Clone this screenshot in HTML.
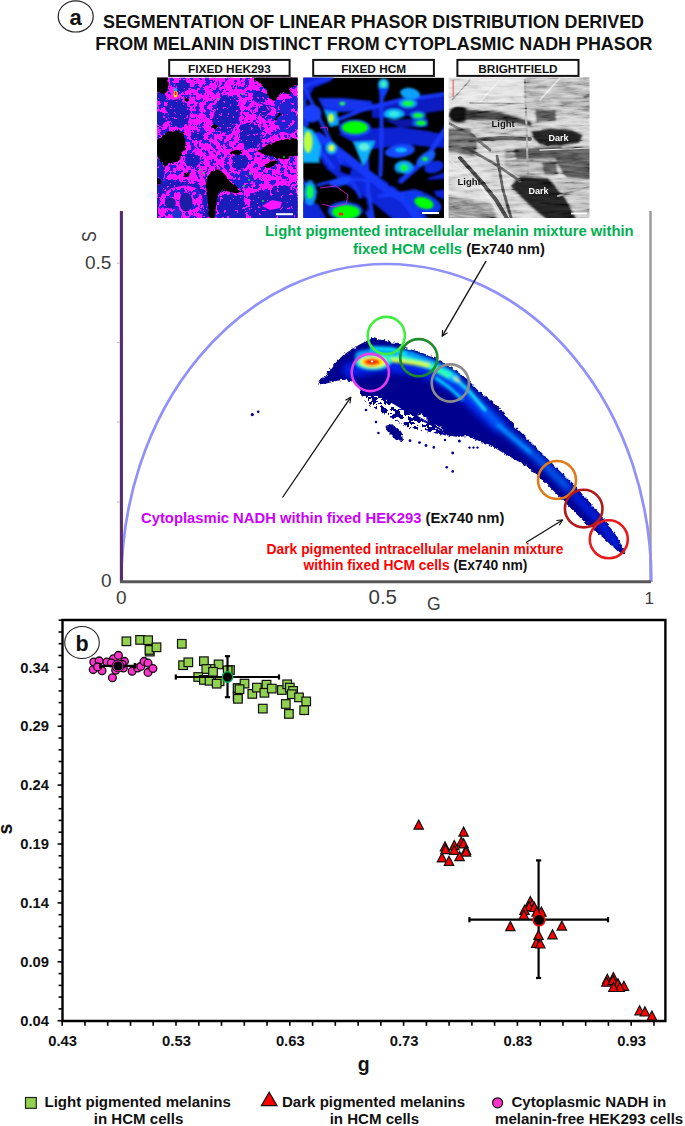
<!DOCTYPE html>
<html><head><meta charset="utf-8">
<style>
html,body{margin:0;padding:0;background:#fff;width:685px;height:1126px;overflow:hidden}
svg{display:block}
text{font-family:"Liberation Sans",sans-serif}
.b{font-weight:bold}
</style></head><body>
<svg width="685" height="1126" viewBox="0 0 685 1126">
<defs>
<marker id="ah" viewBox="0 0 10 10" refX="9" refY="5" markerWidth="7" markerHeight="7" orient="auto" markerUnits="userSpaceOnUse">
<path d="M1,1 L9,5 L1,9" fill="none" stroke="#111" stroke-width="1.6"/>
</marker>

<clipPath id="cBlob"><path d="M318,381 L324.6,377.5 L329,371 L334.8,363.6 L343.6,354.8 L352.3,349 L359.6,344.6 L368.4,340.2 L372.8,338 L378.6,339.5 L385.9,340.2 L391.8,342.4 L397.6,343.1 L404.7,348 L418.7,351.5 L436.2,358.5 L453.7,369 L467.7,379.6 L480,392.6 L483.8,395 L498.4,406.7 L515.9,427.2 L536.4,447.6 L556.8,468 L577.2,488.5 L600.6,514.7 L618.1,538.1 L625.4,552.7 L621,554.2 L603.5,538.1 L586,523.5 L562.6,500.1 L545.1,482.6 L524.7,465.1 L504.2,453.4 L489.6,444.7 L478,441 L468,436 L457.5,437 L446,435 L440,426 L431,424 L421,414 L412,418 L399,408.5 L385.4,399 L374,395.2 L362.6,397 L359.6,388 L353.8,382.6 L345,379.6 L336.3,381.1 L327.5,383.3 L318,384.5 Z"/></clipPath>
<clipPath id="cHek"><rect x="157" y="77.6" width="140.7" height="140.4"/></clipPath>
<clipPath id="cHcm"><rect x="303.3" y="77.6" width="140.7" height="140.4"/></clipPath>
<clipPath id="cBf"><rect x="448.6" y="77.6" width="140.9" height="140.4"/></clipPath>
<filter id="sm" x="-5%" y="-5%" width="110%" height="110%"><feGaussianBlur stdDeviation="0.6"/></filter>
<filter id="sm2" x="-20%" y="-20%" width="140%" height="140%"><feGaussianBlur stdDeviation="1.5"/></filter>
<filter id="spk1" x="0" y="0" width="100%" height="100%" filterUnits="objectBoundingBox">
<feTurbulence type="fractalNoise" baseFrequency="0.2" numOctaves="3" seed="7" result="n"/>
<feColorMatrix in="n" type="matrix" values="0 0 0 0 0  0 0 0 0 0  0 0 0 0 0  1 0 0 0 0" result="a"/>
<feComponentTransfer in="a" result="t"><feFuncA type="discrete" tableValues="0 0 0 0 0 0 0 0 0 0 0 1 1 1 1 1 1 1 1 1"/></feComponentTransfer>
<feGaussianBlur in="t" stdDeviation="0.5" result="tb"/>
<feComposite in="SourceGraphic" in2="tb" operator="in"/>
</filter>
<filter id="rough" filterUnits="userSpaceOnUse" x="150" y="70" width="160" height="155"><feTurbulence type="fractalNoise" baseFrequency="0.3" numOctaves="2" seed="3" result="t"/><feDisplacementMap in="SourceGraphic" in2="t" scale="6" xChannelSelector="R" yChannelSelector="G"/></filter>
<filter id="rough2" filterUnits="userSpaceOnUse" x="150" y="70" width="160" height="155"><feTurbulence type="fractalNoise" baseFrequency="0.25" numOctaves="2" seed="5" result="t"/><feDisplacementMap in="SourceGraphic" in2="t" scale="3.5" xChannelSelector="R" yChannelSelector="G"/></filter>
<filter id="spk2" x="-10%" y="-10%" width="120%" height="120%">
<feTurbulence type="fractalNoise" baseFrequency="0.22" numOctaves="2" seed="11" result="n"/>
<feColorMatrix in="n" type="matrix" values="0 0 0 0 0  0 0 0 0 0  0 0 0 0 0  1 0 0 0 0" result="a"/>
<feComponentTransfer in="a" result="t"><feFuncA type="discrete" tableValues="0 0 0 0 1 1 1 1 1 1"/></feComponentTransfer>
<feComposite in="SourceGraphic" in2="t" operator="in"/>
</filter>
<filter id="bl1" x="-10%" y="-10%" width="120%" height="120%"><feGaussianBlur stdDeviation="1.2"/></filter>
<filter id="bl05" x="-20%" y="-20%" width="140%" height="140%"><feGaussianBlur stdDeviation="0.5"/></filter>
<filter id="bl3" x="-20%" y="-20%" width="140%" height="140%"><feGaussianBlur stdDeviation="3"/></filter>
<filter id="bl15" x="-30%" y="-30%" width="160%" height="160%"><feGaussianBlur stdDeviation="1.5"/></filter>
<filter id="rough3" filterUnits="userSpaceOnUse" x="300" y="320" width="340" height="250"><feTurbulence type="fractalNoise" baseFrequency="0.35" numOctaves="2" seed="9" result="t"/><feDisplacementMap in="SourceGraphic" in2="t" scale="4" xChannelSelector="R" yChannelSelector="G"/></filter>
<filter id="spk3" x="-10%" y="-10%" width="120%" height="120%">
<feTurbulence type="fractalNoise" baseFrequency="0.22" numOctaves="2" seed="21" result="n"/>
<feColorMatrix in="n" type="matrix" values="0 0 0 0 0  0 0 0 0 0  0 0 0 0 0  1 0 0 0 0" result="a"/>
<feComponentTransfer in="a" result="t"><feFuncA type="discrete" tableValues="0 0 0 0 0 1 1 1 1 1"/></feComponentTransfer>
<feComposite in="SourceGraphic" in2="t" operator="in"/>
</filter>
<filter id="spk4" x="0" y="0" width="100%" height="100%">
<feTurbulence type="fractalNoise" baseFrequency="0.3" numOctaves="2" seed="17" result="n"/>
<feColorMatrix in="n" type="matrix" values="0 0 0 0 0  0 0 0 0 0  0 0 0 0 0  1 0 0 0 0" result="a"/>
<feComponentTransfer in="a" result="t"><feFuncA type="discrete" tableValues="0 0 0 0 0 0 0 1 1 1"/></feComponentTransfer>
<feComposite in="SourceGraphic" in2="t" operator="in"/>
</filter>
<filter id="tex" filterUnits="userSpaceOnUse" x="448.6" y="77.6" width="140.9" height="140.4">
<feTurbulence type="fractalNoise" baseFrequency="0.05 0.28" numOctaves="3" seed="4" result="n"/>
<feColorMatrix in="n" type="matrix" values="1.8 0 0 0 -0.4  1.8 0 0 0 -0.4  1.8 0 0 0 -0.4  0 0 0 0 0.6"/>
</filter>
</defs>
<rect width="685" height="1126" fill="#fff"/>

<!-- ===== PANEL A HEADER ===== -->
<ellipse cx="75.7" cy="16.4" rx="17.5" ry="15.6" fill="none" stroke="#222" stroke-width="1.2"/>
<text x="69.5" y="24.6" class="b" font-size="22" fill="#111">a</text>
<text x="103" y="28.3" class="b" font-size="17.9" fill="#111">SEGMENTATION OF LINEAR PHASOR DISTRIBUTION DERIVED</text>
<text x="95.3" y="49.5" class="b" font-size="17.9" fill="#111">FROM MELANIN DISTINCT FROM CYTOPLASMIC NADH PHASOR</text>

<!-- label boxes -->
<rect x="169.2" y="59.9" width="120.4" height="16" fill="#fff" stroke="#111" stroke-width="2"/>
<text x="229.4" y="72.7" class="b" font-size="11.8" fill="#111" text-anchor="middle">FIXED HEK293</text>
<rect x="313.2" y="59.9" width="120.7" height="16" fill="#fff" stroke="#111" stroke-width="2"/>
<text x="373.6" y="72.7" class="b" font-size="11.8" fill="#111" text-anchor="middle">FIXED HCM</text>
<rect x="457.4" y="59.9" width="121.1" height="16" fill="#fff" stroke="#111" stroke-width="2"/>
<text x="518" y="72.7" class="b" font-size="11.8" fill="#111" text-anchor="middle">BRIGHTFIELD</text>

<!-- images placeholders -->
<g id="hek" clip-path="url(#cHek)">
<rect x="157" y="77.6" width="140.7" height="140.4" fill="#ff14ff"/>
<rect x="157" y="77.6" width="140.7" height="140.4" fill="#2222d8" filter="url(#spk1)"/>
<g fill="#1c1cbc" filter="url(#rough)">
<ellipse cx="183" cy="86" rx="7" ry="6"/>
<path d="M167,101 L178,99 L188,104 L190,115 L188,124 L181,127 L173,126 L168,118 L166,108 Z"/>
<path d="M154,92 L163,93 L168,98 L163,102 L154,101 Z"/>
<path d="M154,111 L162,112 L166,119 L163,127 L154,127 Z"/>
<path d="M222,96 L232,96 L239,102 L240,112 L237,122 L232,131 L222,133 L214,129 L212,121 L216,108 Z"/>
<ellipse cx="259.5" cy="97" rx="7.5" ry="5.5"/>
<ellipse cx="263.8" cy="111" rx="6" ry="5.5"/>

<ellipse cx="197" cy="136" rx="7" ry="5"/>
<path d="M240,124 L252,122 L260,128 L262,140 L257,148 L246,148 L240,140 Z"/>
<ellipse cx="192.5" cy="160" rx="7.5" ry="7"/>
<ellipse cx="240" cy="162" rx="8.5" ry="8"/>

<path d="M154,160 L162,162 L165,170 L163,185 L154,185 Z"/>
<path d="M154,183 L170,180 L185,182 L200,186 L207,195 L209,210 L208,221 L154,221 Z"/>
<path d="M250,196 L258,190 L268,192 L275,186 L285,185 L294,190 L300,200 L300,221 L250,221 Z"/>
<path d="M218,196 L230,193 L240,196 L246,206 L246,221 L218,221 Z"/>
</g>
<rect x="157" y="77.6" width="140.7" height="140.4" fill="#ff14ff" filter="url(#spk4)"/>
<g fill="#2020d4" filter="url(#spk2)">
<path d="M276,104 L285,99 L300,97 L300,128 L290,134 L281,131 L276,120 Z"/>
<ellipse cx="243" cy="180" rx="11" ry="9"/>
</g>
<g fill="#ff14ff" filter="url(#sm)">
<path d="M158,203 L162,194 L172,188 L186,185 L196,188 L202,196 L204,210 L201,221 L158,221 Z"/>
<path d="M262,206 L272,200 L282,202 L280,208 L270,210 Z"/>
</g>
<path d="M158,203 L162,194 L172,188 L186,185 L196,188 L202,196 L204,210 L201,221 L158,221 Z" fill="#2222d8" filter="url(#spk1)"/>
<g fill="#1a1aa6" filter="url(#sm)">
<ellipse cx="170.3" cy="203" rx="5.5" ry="5.5"/>
<ellipse cx="186" cy="202" rx="6.5" ry="9.5"/>
<ellipse cx="177" cy="214" rx="5" ry="4.5" fill="#2030d0"/>
</g>
<g fill="#000" filter="url(#rough2)">
<path d="M154,75 L167.6,75 L168.7,83.8 L167,91.4 L163.8,94.2 L154,90.3 Z"/>
<path d="M250.7,75 L300,75 L300,84.9 L292.9,85.4 L290.1,89.2 L290.7,94.7 L286.3,93.6 L281.9,91.4 L277.6,96.9 L275.4,100.2 L269.9,99.1 L267.7,95.8 L266.6,90.3 L262.2,85.9 L257.8,81.6 L254.6,79.9 Z"/>
<path d="M161.6,136.3 L167,131.9 L174.7,130.3 L182.4,131.9 L185.1,136.3 L185.7,145 L184.6,149.4 L181.3,152.7 L180.2,159.2 L178,161.4 L169.2,163.6 L164.9,166.9 L161.6,162.5 L159.4,159.2 L154,150 L154,141 Z"/>
<path d="M184.6,97 L188.4,97.5 L188,101.8 L184.8,101.5 Z"/>
<path d="M210.8,126.5 L214.5,123.2 L218.5,126 L215,129.7 Z"/>
<path d="M257,151 L266,146 L278,141 L290,138.5 L300,139 L300,155 L290,156.5 L284,159.5 L276,157.5 L266,155 Z"/>
<path d="M263.3,166.9 L268.8,162.5 L275.4,160.3 L278.1,161.4 L275.4,165.3 L268.8,168 Z"/>
<path d="M211,171.3 L218.5,169.2 L224.9,174.5 L231.2,183 L237.6,187.3 L241,191.5 L236.5,193.5 L224.9,190.4 L218.5,193.5 L216.4,202 L214.3,221 L209,221 L207.9,202 L205.8,185 L207.9,176.6 Z"/>
<path d="M274,119.5 L279.8,112.8 L281.6,114 L275.8,120.6 Z"/>
<path d="M154,178 L160.5,178.5 L160.5,184.4 L154,184.4 Z"/>
<path d="M184,173 L190,172.5 L189,175.7 L184.5,176 Z"/>
<path d="M229.7,152 L236,149.7 L242.6,150.5 L240,154.4 L232,154.4 Z"/>
</g>
<g fill="#00e040"><circle cx="218" cy="99" r="0.9"/><circle cx="242" cy="94" r="0.9"/><circle cx="250" cy="174" r="1"/><circle cx="249" cy="180" r="1"/><circle cx="244" cy="186" r="1"/><circle cx="200" cy="170" r="0.9"/><circle cx="204" cy="173" r="0.9"/><circle cx="284" cy="157" r="0.9"/><circle cx="263" cy="201" r="0.9"/></g>
<ellipse cx="175.5" cy="94" rx="2" ry="3.5" fill="#ffe000"/><ellipse cx="175.6" cy="93.3" rx="1" ry="2" fill="#ff2000"/>
<ellipse cx="175.5" cy="89.5" rx="2" ry="1.5" fill="#20c0ff" opacity="0.8"/>
<rect x="276" y="213.2" width="17" height="2" fill="#fff"/>
</g>
<g id="hcm" clip-path="url(#cHcm)">
<rect x="303.3" y="77.6" width="140.7" height="140.4" fill="#000"/>
<g filter="url(#bl1)">
<g fill="#0c22d8">
<path d="M300,76 L333,75 L331,81 L314,88 L307,100 L300,104 Z"/>
<path d="M300,100 L306,100 L309,126 L300,128 Z" fill="#1030f0"/>
<path d="M318,98 L340,98 L372,101 L372,110 L345,112 L325,112 Z" fill="#1030e8"/>
<path d="M338,134 L356,129 L400,127 L428,131 L446,135 L446,148 L430,147 L412,145 L395,146 L373,149 L360,146 Z" fill="#0c24d0"/>
<path d="M318,134 L345,154 L372,172 L395,188 L418,206 L430,221 L395,221 L372,202 L348,186 L326,168 L316,150 Z" fill="#0c26d8"/>
<path d="M300,200 L318,204 L328,221 L300,221 Z" fill="#0c26d8"/>
<path d="M428,178 L446,172 L446,200 L436,196 Z"/>
<path d="M372,104 L446,96 L446,110 L395,118 L372,118 Z" fill="#0a1cc0"/>
<path d="M384,120 L428,118 L428,127 L400,127 Z" fill="#0818a8"/>
</g>
<g fill="none" stroke="#1838f8" stroke-linecap="round">
<path d="M304,86 L322,124 L340,160 L360,196 L371,221" stroke-width="3.5"/>
<path d="M304,86 L332,77" stroke-width="4"/>
<path d="M330,123 L362,110 L400,100 L446,94" stroke-width="4"/>
<path d="M381.5,88 L381.5,140 L380.5,175" stroke-width="4"/>
<path d="M318,136 L350,160 L385,188 L405,200 L420,221" stroke-width="8"/>
<path d="M366,150 L368,190 L373,221" stroke-width="4.5"/>
<path d="M401,181 L425,160 L446,128" stroke-width="5"/>
<path d="M303,128 L320,150 L333,168" stroke-width="4"/>
<path d="M380,196 L446,188" stroke-width="4"/>
<path d="M318,185 L345,178 L380,182" stroke-width="3"/>
<path d="M303,182 L316,192" stroke-width="3"/>
</g>
<g fill="#000">
<path d="M303,161 L318,159 L327,167 L325,178 L311,181 L303,179 Z"/>
<path d="M321,189 L336,186 L348,193 L350,204 L340,209 L326,207 L320,199 Z"/>
<path d="M387,173 L396,169 L400,178 L397,188 L388,186 Z"/>
<path d="M355,199 L364,197 L369,205 L366,214 L357,212 Z"/>
<path d="M405,187 L418,180 L446,178 L446,190 L425,193 Z"/>
<path d="M340,164 L352,168 L350,176 L340,172 Z"/>
</g>
<ellipse cx="312" cy="113.5" rx="9.5" ry="9" fill="#1c40fa"/>
<ellipse cx="344" cy="104" rx="23" ry="5.5" fill="#1436ec" transform="rotate(3 344 104)"/>
<path d="M324,110 L337,112 L339,125 L330,127 Z" fill="#10a0ff"/>
<ellipse cx="355" cy="128" rx="16" ry="8.5" fill="#1448ff"/>
<path d="M301,126 L313,130 L321,146 L319,162 L301,162 Z" fill="#10b0ff"/>
<ellipse cx="331.5" cy="148" rx="5.5" ry="6" fill="#10b0ff"/>
<path d="M353,142 L375,141 L368,158 L363,166 Z" fill="#10b0ff"/>
<ellipse cx="383.5" cy="84.5" rx="5.5" ry="6" fill="#10a0ff"/>
<path d="M378,88 L389,88 L383,100 Z" fill="#1040ff"/>
<ellipse cx="410" cy="93.5" rx="10" ry="5.5" fill="#10a0ff" transform="rotate(8 410 93.5)"/>
<ellipse cx="408" cy="103.5" rx="9" ry="4.2" fill="#10a0ff"/>
<ellipse cx="394" cy="114" rx="10" ry="5" fill="#10b0ff"/>
<ellipse cx="418" cy="115.5" rx="8" ry="4" fill="#1070ff"/>
<ellipse cx="420" cy="123" rx="7.5" ry="4" fill="#1060ff"/>
<ellipse cx="400" cy="151" rx="15" ry="6.5" fill="#1848ff" transform="rotate(-8 400 151)"/>
<ellipse cx="404" cy="167" rx="9.5" ry="6.5" fill="#10a0ff"/>
<ellipse cx="426" cy="158.5" rx="11" ry="5.5" fill="#1460ff" transform="rotate(-35 426 158.5)"/>
<ellipse cx="434" cy="167" rx="10" ry="6" fill="#0a2ae0" transform="rotate(-15 434 167)"/>
<ellipse cx="310" cy="193" rx="6.5" ry="12" fill="#1090ff"/>
<ellipse cx="345" cy="211" rx="17" ry="9" fill="#1448ff"/>
<ellipse cx="423" cy="203" rx="19" ry="9.5" fill="#1038f0" transform="rotate(18 423 203)"/>
<ellipse cx="340" cy="182" rx="11" ry="4" fill="#1448ff" transform="rotate(-10 340 182)"/>
</g>
<g filter="url(#bl1)">
<ellipse cx="342.3" cy="103.6" rx="3" ry="1.8" fill="#30ff60"/>
<ellipse cx="331" cy="118" rx="3" ry="4.5" fill="#c0ff40"/>
<ellipse cx="355" cy="127.5" rx="13" ry="6.5" fill="#00ff00"/>
<ellipse cx="383.5" cy="84" rx="3" ry="3.5" fill="#40f0c0"/>
<ellipse cx="408" cy="103.5" rx="5.5" ry="2.8" fill="#10ff40"/>
<ellipse cx="394" cy="114" rx="5.5" ry="3" fill="#30f0e0"/>
<ellipse cx="418" cy="115.5" rx="5" ry="2.5" fill="#10ff30"/>
<ellipse cx="421" cy="123" rx="5" ry="2.5" fill="#10ff20"/>
<ellipse cx="308" cy="142" rx="4.5" ry="11" fill="#c0ff40"/>
<ellipse cx="331.5" cy="148" rx="3" ry="3.5" fill="#e0ff40"/>
<ellipse cx="364" cy="147" rx="5.5" ry="4" fill="#60f0e0"/>
<ellipse cx="401" cy="150" rx="6" ry="2.5" fill="#10c0ff"/>
<ellipse cx="425" cy="159" rx="3" ry="2" fill="#10ff30"/>
<ellipse cx="404" cy="167.5" rx="5" ry="4" fill="#10e0a0"/>
<ellipse cx="404" cy="168" rx="2.5" ry="3" fill="#10ff20"/>
<ellipse cx="310" cy="192" rx="3.5" ry="7" fill="#10ff40"/>
<ellipse cx="346" cy="212" rx="14" ry="7" fill="#00ff00"/>
<ellipse cx="424" cy="203" rx="10" ry="5.5" fill="#00ff00" transform="rotate(18 424 203)"/>
</g>
<ellipse cx="341" cy="214" rx="2.5" ry="1.5" fill="#ff2000" filter="url(#bl05)"/>
<g fill="none" stroke="#e020e0" stroke-width="0.9" opacity="0.9">
<path d="M320,188 L336,186 L348,195 L346,204 L333,207 L322,204"/>
<path d="M320,128 L327,127 L328,131"/>
</g>
<rect x="422" y="212" width="17" height="2" fill="#fff"/>
</g>
<g id="bf" clip-path="url(#cBf)">
<rect x="448.6" y="77.6" width="140.9" height="140.4" fill="#c6c6c6"/>
<g filter="url(#bl1)">
<path d="M446,76 L528,76 L526,100 L505,104 L470,106 L446,104 Z" fill="#d8d8d8"/>
<path d="M526,76 L592,76 L592,118 L560,116 L530,110 L524,100 Z" fill="#a4a4a4"/>
<path d="M470,112 L530,116 L540,128 L535,146 L500,148 L473,144 Z" fill="#b8b8b8"/>
<path d="M446,128 L470,128 L478,142 L474,156 L446,158 Z" fill="#5a5a5a"/>
<path d="M446,152 L470,156 L488,172 L496,190 L494,204 L470,206 L446,200 Z" fill="#d2d2d2"/>
<path d="M446,196 L470,200 L492,204 L498,221 L446,221 Z" fill="#767676"/>
<path d="M505,148 L540,150 L552,160 L556,176 L520,178 L505,168 Z" fill="#9a9a9a"/>
<path d="M556,148 L592,146 L592,180 L566,178 L556,162 Z" fill="#4c4c4c"/>
<path d="M566,196 L582,194 L592,200 L592,212 L575,211 L566,204 Z" fill="#6a6a6a"/>
<path d="M556,178 L592,180 L592,221 L572,221 L560,200 Z" fill="#b0b0b0"/>
<path d="M514,148 L562,146 L566,158 L516,160 Z" fill="#444"/>
<path d="M542,162 L556,161 L558,174 L544,175 Z" fill="#505050"/>
<path d="M535,109 L556,110 L556,121 L536,122 Z" fill="#4a4a4a"/>
<path d="M520,176 L548,178 L566,198 L578,221 L548,221 L528,204 L510,186 Z" fill="#1e1e1e"/>
<path d="M531,131 L550,128 L572,130 L583,135 L579,143 L560,145.5 L540,144.5 L533,139 Z" fill="#1a1a1a"/>
<ellipse cx="459" cy="114.5" rx="10.5" ry="8.5" fill="#101010"/>
<path d="M466,109 L500,112 L532,121 L532,127 L500,121 L466,120 Z" fill="#303030"/>
</g>
<g fill="none" stroke-linecap="round" filter="url(#bl05)">
<path d="M460,158 L480,180 L496,200 L508,220" stroke="#3a3a3a" stroke-width="4"/>
<path d="M470,140 L500,138 L530,139" stroke="#484848" stroke-width="4"/>
<path d="M450,124 L470,134 L490,150" stroke="#555" stroke-width="3"/>
<path d="M470,150 L495,164 L520,181" stroke="#505050" stroke-width="3"/>
<path d="M497,156 L503,190 L512,221" stroke="#4a4a4a" stroke-width="3"/>
<path d="M500,80 L478,104" stroke="#eaeaea" stroke-width="1.5"/>
<path d="M560,78 L540,100" stroke="#e0e0e0" stroke-width="1.2"/>
<path d="M470,80 L452,100" stroke="#909090" stroke-width="1.2"/>
<path d="M525,80 L528,175" stroke="#8a8a8a" stroke-width="2"/>
<path d="M450,160 L480,185 L500,215" stroke="#eeeeee" stroke-width="1"/>
<path d="M470,103 L540,104 L592,108" stroke="#8a8a8a" stroke-width="1.5"/>
<path d="M540,150 L592,148" stroke="#e8e8e8" stroke-width="1"/>
<path d="M558,196 L592,186" stroke="#888" stroke-width="2"/>
</g>
<rect x="448.6" y="77.6" width="140.9" height="140.4" filter="url(#tex)" style="mix-blend-mode:overlay"/>
<text x="491.5" y="126.8" class="b" font-size="9.5" fill="#111">Light</text>
<text x="548.5" y="140.6" class="b" font-size="9" fill="#fff">Dark</text>
<text x="457.5" y="185.2" class="b" font-size="9.5" fill="#111">Light</text>
<text x="528.5" y="193.6" class="b" font-size="9" fill="#fff">Dark</text>
<line x1="453.2" y1="80" x2="453.2" y2="97" stroke="#e03030" stroke-width="0.8"/>
<rect x="571" y="212.6" width="16" height="1.8" fill="#fff"/>
</g>

<!-- ===== PHASOR PLOT ===== -->
<g id="phasor">
<line x1="650.5" y1="211" x2="650.5" y2="582" stroke="#9c9c9c" stroke-width="2.5"/>
<path d="M121.4,582 A265,318 0 0 1 651.4,582" fill="none" stroke="#9090fa" stroke-width="2.7"/>
<line x1="121.4" y1="211" x2="121.4" y2="582" stroke="#5a2c6c" stroke-width="3.1"/>
<line x1="120" y1="581.8" x2="651" y2="581.8" stroke="#585858" stroke-width="3"/>
<g stroke="#bbb" stroke-width="1"><line x1="117" y1="263.2" x2="120" y2="263.2"/><line x1="117" y1="342.5" x2="120" y2="342.5"/><line x1="117" y1="422" x2="120" y2="422"/><line x1="117" y1="502" x2="120" y2="502"/></g>
<text x="85" y="269.3" font-size="19" fill="#3c3c3c">0.5</text>
<text x="101" y="586.8" font-size="19" fill="#3c3c3c">0</text>
<text x="116" y="604" font-size="19" fill="#3c3c3c">0</text>
<text x="368.5" y="604" font-size="20.5" fill="#3c3c3c">0.5</text>
<text x="644.5" y="603.5" font-size="17" fill="#3c3c3c">1</text>
<text x="427" y="609.7" font-size="17.5" fill="#3c3c3c">G</text>
<text transform="translate(95.5,242) rotate(-90) scale(0.78,1)" font-size="20.5" fill="#3c3c3c">S</text>
</g>

<g id="blob">
<g fill="#00008e" filter="url(#rough3)">
<path id="blobp" d="M318,381 L324.6,377.5 L329,371 L334.8,363.6 L343.6,354.8 L352.3,349 L359.6,344.6 L368.4,340.2 L372.8,338 L378.6,339.5 L385.9,340.2 L391.8,342.4 L397.6,343.1 L404.7,348 L418.7,351.5 L436.2,358.5 L453.7,369 L467.7,379.6 L480,392.6 L483.8,395 L498.4,406.7 L515.9,427.2 L536.4,447.6 L556.8,468 L577.2,488.5 L600.6,514.7 L618.1,538.1 L625.4,552.7 L621,554.2 L603.5,538.1 L586,523.5 L562.6,500.1 L545.1,482.6 L524.7,465.1 L504.2,453.4 L489.6,444.7 L478,441 L468,436 L457.5,437 L446,435 L440,426 L431,424 L421,414 L412,418 L399,408.5 L385.4,399 L374,395.2 L362.6,397 L359.6,388 L353.8,382.6 L345,379.6 L336.3,381.1 L327.5,383.3 L318,384.5 Z"/>
<path d="M360,392 L375,392 L392,400 L410,412 L425,420 L440,428 L448,436 L430,432 L410,428 L395,420 L380,412 L368,404 Z"/>
<path d="M385,426 L392,424 L402,433 L403,441 L396,440 L388,432 Z"/>
</g>
<g fill="#fff" filter="url(#spk3)">
<path d="M362,396 L380,396 L400,408 L420,420 L440,430 L430,434 L405,428 L385,420 L370,408 Z"/>
</g>
<g fill="#00008e">
<circle cx="252.3" cy="414.6" r="1.6"/><circle cx="258.2" cy="411.8" r="1.3"/>
<circle cx="366" cy="410" r="1.3"/><circle cx="376" cy="422" r="1.3"/><circle cx="378.4" cy="433" r="1.3"/>
<circle cx="410" cy="440.7" r="1.4"/><circle cx="419.5" cy="442.6" r="1.4"/><circle cx="426" cy="445.5" r="1.4"/><circle cx="433.8" cy="447.4" r="1.3"/>
<circle cx="452.7" cy="453" r="1.4"/><circle cx="446.7" cy="467.2" r="1.3"/><circle cx="452.7" cy="471.4" r="1.3"/>
<circle cx="469.5" cy="447.6" r="1.2"/><circle cx="473.5" cy="447.6" r="1.2"/><circle cx="477.5" cy="447.6" r="1.2"/>
<circle cx="459.4" cy="441" r="1.5"/><circle cx="445" cy="440" r="1.2"/>
</g>
<g clip-path="url(#cBlob)">
<g fill="none" stroke-linecap="round" filter="url(#bl3)">
<path d="M350,370 L380,364 L420,368 L455,385 L498,425" stroke="#0024ea" stroke-width="15"/>
<path d="M498,425 L536,457 L570,490 L600,522 L617,545" stroke="#0020e0" stroke-width="8"/>
<path d="M362,356 L400,356 L430,364 L460,382 L498,424 L536,456 L566,486" stroke="#0068ff" stroke-width="6"/>
</g>
<g fill="none" stroke-linecap="round" filter="url(#bl15)">
<path d="M360,356 L385,352 L410,356 L435,366 L455,378" stroke="#00a8ff" stroke-width="10" opacity="0.9"/>
<path d="M372,348 L392,349 L405,353" stroke="#00e0ff" stroke-width="4"/>
<path d="M380,358 L405,359 L430,366 L448,375" stroke="#40ffb0" stroke-width="6"/>
<path d="M385,360 L405,360 L430,366 L450,374" stroke="#20ffc0" stroke-width="4.5"/>
<path d="M392,360 L428,365" stroke="#e8ff20" stroke-width="3.5"/>
<path d="M436,378 L450,388 L462,399" stroke="#00f0ff" stroke-width="2.8"/>
<path d="M452,376 L468,390 L485,410" stroke="#20f8ff" stroke-width="2.8"/>
<path d="M455,378 L459,381" stroke="#f0ff20" stroke-width="2"/>
<path d="M498,425 L530,452" stroke="#0090ff" stroke-width="3"/>
</g>
<g filter="url(#bl15)">
<ellipse cx="373" cy="362" rx="18" ry="8" fill="#20f0d0"/>
<ellipse cx="373" cy="362" rx="13" ry="5.5" fill="#ffff00"/>
<ellipse cx="372" cy="362" rx="8.5" ry="3.5" fill="#ff1000"/>
</g>
</g>
<ellipse cx="372" cy="361.5" rx="1.3" ry="0.9" fill="#fff"/>
<g fill="none" stroke-width="2.6">
<circle cx="386.3" cy="335.5" r="18.6" stroke="#40ee40"/>
<circle cx="418.8" cy="357.7" r="18.6" stroke="#1e8c28"/>
<circle cx="450.3" cy="383" r="18.6" stroke="#8c8c8c"/>
<circle cx="370.3" cy="372.5" r="18.6" stroke="#e83ce8"/>
<circle cx="557" cy="480" r="19" stroke="#e07a1a"/>
<circle cx="583.7" cy="508.6" r="18.8" stroke="#b01a1a"/>
<circle cx="608.8" cy="539.3" r="19" stroke="#e51c1c"/>
</g>
</g>

<!-- annotations -->
<text x="265" y="236.1" class="b" font-size="14.85" fill="#00b050">Light pigmented intracellular melanin mixture within</text>
<text x="353" y="254.1" class="b" font-size="14.75"><tspan fill="#00b050">fixed HCM cells</tspan><tspan fill="#111"> (Ex740 nm)</tspan></text>
<text x="141" y="522.8" class="b" font-size="14.8"><tspan fill="#cc00ff">Cytoplasmic NADH  within fixed HEK293</tspan><tspan fill="#111"> (Ex740 nm)</tspan></text>
<text x="266.5" y="554" class="b" font-size="13.85" fill="#ff0000">Dark pigmented intracellular melanin mixture</text>
<text x="303.5" y="570.2" class="b" font-size="13.85"><tspan fill="#ff0000">within fixed HCM cells</tspan><tspan fill="#111"> (Ex740 nm)</tspan></text>

<g stroke="#111" stroke-width="1.3" fill="none" marker-end="url(#ah)">
<line x1="486" y1="261.1" x2="442.2" y2="336.2"/>
<line x1="282.5" y1="497.5" x2="350.8" y2="397.2"/>
<line x1="526.1" y1="542.5" x2="562.6" y2="520"/>
</g>

<!-- ===== PANEL B ===== -->
<g id="panelb">
<path d="M62.5,620 L665.4,620 L665.4,1021 L62.5,1021 Z" fill="none" stroke="#000" stroke-width="2.4"/>
<ellipse cx="82" cy="642.5" rx="17.3" ry="16" fill="none" stroke="#222" stroke-width="1.1"/>
<!--PB_START-->
<g stroke="#000" stroke-width="1.6">
<line x1="57.6" y1="1020.7" x2="62" y2="1020.7"/>
<line x1="58.6" y1="1008.9" x2="62" y2="1008.9"/>
<line x1="58.6" y1="997.1" x2="62" y2="997.1"/>
<line x1="58.6" y1="985.4" x2="62" y2="985.4"/>
<line x1="58.6" y1="973.6" x2="62" y2="973.6"/>
<line x1="57.6" y1="961.8" x2="62" y2="961.8"/>
<line x1="58.6" y1="950.0" x2="62" y2="950.0"/>
<line x1="58.6" y1="938.2" x2="62" y2="938.2"/>
<line x1="58.6" y1="926.5" x2="62" y2="926.5"/>
<line x1="58.6" y1="914.7" x2="62" y2="914.7"/>
<line x1="57.6" y1="902.9" x2="62" y2="902.9"/>
<line x1="58.6" y1="891.1" x2="62" y2="891.1"/>
<line x1="58.6" y1="879.3" x2="62" y2="879.3"/>
<line x1="58.6" y1="867.6" x2="62" y2="867.6"/>
<line x1="58.6" y1="855.8" x2="62" y2="855.8"/>
<line x1="57.6" y1="844.0" x2="62" y2="844.0"/>
<line x1="58.6" y1="832.2" x2="62" y2="832.2"/>
<line x1="58.6" y1="820.4" x2="62" y2="820.4"/>
<line x1="58.6" y1="808.7" x2="62" y2="808.7"/>
<line x1="58.6" y1="796.9" x2="62" y2="796.9"/>
<line x1="57.6" y1="785.1" x2="62" y2="785.1"/>
<line x1="58.6" y1="773.3" x2="62" y2="773.3"/>
<line x1="58.6" y1="761.5" x2="62" y2="761.5"/>
<line x1="58.6" y1="749.8" x2="62" y2="749.8"/>
<line x1="58.6" y1="738.0" x2="62" y2="738.0"/>
<line x1="57.6" y1="726.2" x2="62" y2="726.2"/>
<line x1="58.6" y1="714.4" x2="62" y2="714.4"/>
<line x1="58.6" y1="702.6" x2="62" y2="702.6"/>
<line x1="58.6" y1="690.9" x2="62" y2="690.9"/>
<line x1="58.6" y1="679.1" x2="62" y2="679.1"/>
<line x1="57.6" y1="667.3" x2="62" y2="667.3"/>
<line x1="58.6" y1="655.5" x2="62" y2="655.5"/>
<line x1="58.6" y1="643.7" x2="62" y2="643.7"/>
<line x1="58.6" y1="632.0" x2="62" y2="632.0"/>
<line x1="58.6" y1="620.2" x2="62" y2="620.2"/>
<line x1="62.2" y1="1021" x2="62.2" y2="1025.8"/>
<line x1="85.0" y1="1021" x2="85.0" y2="1025.8"/>
<line x1="107.7" y1="1021" x2="107.7" y2="1025.8"/>
<line x1="130.5" y1="1021" x2="130.5" y2="1025.8"/>
<line x1="153.2" y1="1021" x2="153.2" y2="1025.8"/>
<line x1="176.0" y1="1021" x2="176.0" y2="1025.8"/>
<line x1="198.8" y1="1021" x2="198.8" y2="1025.8"/>
<line x1="221.5" y1="1021" x2="221.5" y2="1025.8"/>
<line x1="244.3" y1="1021" x2="244.3" y2="1025.8"/>
<line x1="267.0" y1="1021" x2="267.0" y2="1025.8"/>
<line x1="289.8" y1="1021" x2="289.8" y2="1025.8"/>
<line x1="312.6" y1="1021" x2="312.6" y2="1025.8"/>
<line x1="335.3" y1="1021" x2="335.3" y2="1025.8"/>
<line x1="358.1" y1="1021" x2="358.1" y2="1025.8"/>
<line x1="380.8" y1="1021" x2="380.8" y2="1025.8"/>
<line x1="403.6" y1="1021" x2="403.6" y2="1025.8"/>
<line x1="426.4" y1="1021" x2="426.4" y2="1025.8"/>
<line x1="449.1" y1="1021" x2="449.1" y2="1025.8"/>
<line x1="471.9" y1="1021" x2="471.9" y2="1025.8"/>
<line x1="494.6" y1="1021" x2="494.6" y2="1025.8"/>
<line x1="517.4" y1="1021" x2="517.4" y2="1025.8"/>
<line x1="540.2" y1="1021" x2="540.2" y2="1025.8"/>
<line x1="562.9" y1="1021" x2="562.9" y2="1025.8"/>
<line x1="585.7" y1="1021" x2="585.7" y2="1025.8"/>
<line x1="608.4" y1="1021" x2="608.4" y2="1025.8"/>
<line x1="631.2" y1="1021" x2="631.2" y2="1025.8"/>
<line x1="654.0" y1="1021" x2="654.0" y2="1025.8"/>
</g>
<text x="49" y="1025.9" class="b" font-size="14.8" fill="#111" text-anchor="end">0.04</text>
<text x="49" y="967.0" class="b" font-size="14.8" fill="#111" text-anchor="end">0.09</text>
<text x="49" y="908.1" class="b" font-size="14.8" fill="#111" text-anchor="end">0.14</text>
<text x="49" y="849.2" class="b" font-size="14.8" fill="#111" text-anchor="end">0.19</text>
<text x="49" y="790.3" class="b" font-size="14.8" fill="#111" text-anchor="end">0.24</text>
<text x="49" y="731.4" class="b" font-size="14.8" fill="#111" text-anchor="end">0.29</text>
<text x="49" y="672.5" class="b" font-size="14.8" fill="#111" text-anchor="end">0.34</text>
<text x="62.7" y="1045.5" class="b" font-size="14.8" fill="#111" text-anchor="middle">0.43</text>
<text x="176.5" y="1045.5" class="b" font-size="14.8" fill="#111" text-anchor="middle">0.53</text>
<text x="290.3" y="1045.5" class="b" font-size="14.8" fill="#111" text-anchor="middle">0.63</text>
<text x="404.1" y="1045.5" class="b" font-size="14.8" fill="#111" text-anchor="middle">0.73</text>
<text x="517.9" y="1045.5" class="b" font-size="14.8" fill="#111" text-anchor="middle">0.83</text>
<text x="631.7" y="1045.5" class="b" font-size="14.8" fill="#111" text-anchor="middle">0.93</text>
<text transform="translate(11.6,829.1) rotate(-90)" class="b" font-size="19.5" fill="#111" text-anchor="middle">s</text>
<text x="363.8" y="1070.8" class="b" font-size="19.5" fill="#111" text-anchor="middle">g</text>
<g fill="#ff33cc" stroke="#111" stroke-width="1.3">
<circle cx="93.2" cy="669.6" r="3.9"/>
<circle cx="93.8" cy="662" r="3.9"/>
<circle cx="99.2" cy="660.9" r="3.9"/>
<circle cx="102" cy="670.7" r="3.9"/>
<circle cx="106.9" cy="662" r="3.9"/>
<circle cx="112.4" cy="677.8" r="3.9"/>
<circle cx="113.5" cy="658.7" r="3.9"/>
<circle cx="118.4" cy="655.4" r="3.9"/>
<circle cx="124.4" cy="661.4" r="3.9"/>
<circle cx="123.3" cy="668" r="3.9"/>
<circle cx="115.7" cy="670.2" r="3.9"/>
<circle cx="132.1" cy="671.3" r="3.9"/>
<circle cx="137.6" cy="668" r="3.9"/>
<circle cx="140.8" cy="666.4" r="3.9"/>
<circle cx="144.1" cy="661.4" r="3.9"/>
<circle cx="148" cy="663.1" r="3.9"/>
<circle cx="148" cy="672.4" r="3.9"/>
<circle cx="152.9" cy="668.5" r="3.9"/>
<circle cx="111.3" cy="663" r="3.9"/>
<circle cx="97.6" cy="666.9" r="3.9"/>
<circle cx="122.2" cy="664.2" r="3.9"/>
</g>
<g stroke="#000" stroke-width="2.2" fill="none"><line x1="100.3" y1="665.8" x2="134.8" y2="665.8"/><line x1="100.3" y1="663.0" x2="100.3" y2="668.5999999999999"/><line x1="134.8" y1="663.0" x2="134.8" y2="668.5999999999999"/></g>
<circle cx="118" cy="666" r="6.2" fill="#111"/><circle cx="118" cy="666" r="5.4" fill="#ff33cc"/><circle cx="118" cy="666" r="4.6" fill="#000"/>
<g fill="#92d050" stroke="#111" stroke-width="1.2">
<rect x="122.1" y="637.0" width="8.6" height="8.6"/>
<rect x="135.8" y="635.6" width="8.6" height="8.6"/>
<rect x="143.8" y="635.9" width="8.6" height="8.6"/>
<rect x="145.5" y="647.3" width="8.6" height="8.6"/>
<rect x="145.2" y="645.6" width="8.6" height="8.6"/>
<rect x="152.2" y="643.0" width="8.6" height="8.6"/>
<rect x="177.5" y="639.5" width="8.6" height="8.6"/>
<rect x="178.8" y="660.9" width="8.6" height="8.6"/>
<rect x="184.0" y="658.0" width="8.6" height="8.6"/>
<rect x="199.6" y="656.9" width="8.6" height="8.6"/>
<rect x="214.3" y="660.1" width="8.6" height="8.6"/>
<rect x="225.7" y="665.7" width="8.6" height="8.6"/>
<rect x="223.4" y="666.1" width="8.6" height="8.6"/>
<rect x="206.3" y="664.7" width="8.6" height="8.6"/>
<rect x="202.0" y="664.7" width="8.6" height="8.6"/>
<rect x="208.7" y="667.5" width="8.6" height="8.6"/>
<rect x="193.9" y="672.7" width="8.6" height="8.6"/>
<rect x="199.6" y="675.6" width="8.6" height="8.6"/>
<rect x="205.3" y="676.5" width="8.6" height="8.6"/>
<rect x="215.3" y="677.0" width="8.6" height="8.6"/>
<rect x="212.4" y="679.4" width="8.6" height="8.6"/>
<rect x="233.3" y="692.2" width="8.6" height="8.6"/>
<rect x="233.3" y="683.7" width="8.6" height="8.6"/>
<rect x="240.2" y="679.3" width="8.6" height="8.6"/>
<rect x="235.2" y="684.9" width="8.6" height="8.6"/>
<rect x="233.6" y="694.5" width="8.6" height="8.6"/>
<rect x="248.0" y="689.6" width="8.6" height="8.6"/>
<rect x="252.6" y="683.3" width="8.6" height="8.6"/>
<rect x="262.2" y="680.4" width="8.6" height="8.6"/>
<rect x="260.1" y="688.5" width="8.6" height="8.6"/>
<rect x="267.5" y="684.3" width="8.6" height="8.6"/>
<rect x="258.5" y="704.3" width="8.6" height="8.6"/>
<rect x="277.6" y="685.7" width="8.6" height="8.6"/>
<rect x="282.9" y="680.0" width="8.6" height="8.6"/>
<rect x="285.5" y="683.3" width="8.6" height="8.6"/>
<rect x="288.8" y="686.6" width="8.6" height="8.6"/>
<rect x="287.5" y="689.9" width="8.6" height="8.6"/>
<rect x="294.7" y="693.1" width="8.6" height="8.6"/>
<rect x="281.5" y="699.7" width="8.6" height="8.6"/>
<rect x="301.9" y="697.1" width="8.6" height="8.6"/>
<rect x="284.6" y="709.6" width="8.6" height="8.6"/>
<rect x="299.9" y="705.9" width="8.6" height="8.6"/>
</g>
<g stroke="#000" stroke-width="2.2" fill="none"><line x1="175.8" y1="677" x2="279" y2="677"/><line x1="175.8" y1="674.4" x2="175.8" y2="679.6"/><line x1="279" y1="674.4" x2="279" y2="679.6"/><line x1="227.5" y1="656.2" x2="227.5" y2="697.2"/><line x1="224.9" y1="656.2" x2="230.1" y2="656.2"/><line x1="224.9" y1="697.2" x2="230.1" y2="697.2"/></g>
<circle cx="227.5" cy="677" r="5.2" fill="#000" stroke="#00b050" stroke-width="1.4"/>
<g stroke="#000" stroke-width="2.2" fill="none"><line x1="469.4" y1="919.7" x2="608" y2="919.7"/><line x1="469.4" y1="917.1" x2="469.4" y2="922.3000000000001"/><line x1="608" y1="917.1" x2="608" y2="922.3000000000001"/><line x1="538.6" y1="860.4" x2="538.6" y2="978"/><line x1="536.0" y1="860.4" x2="541.2" y2="860.4"/><line x1="536.0" y1="978" x2="541.2" y2="978"/></g>
<g fill="#ff0000" stroke="#111" stroke-width="1.2" stroke-linejoin="miter">
<path d="M418.7,820.1 L423.4,829.2 L414.0,829.2 Z"/>
<path d="M463.6,827.1 L468.3,836.2 L458.9,836.2 Z"/>
<path d="M461.3,837.0 L466.0,846.1 L456.6,846.1 Z"/>
<path d="M463.6,838.8 L468.3,847.9 L458.9,847.9 Z"/>
<path d="M454.3,840.5 L459.0,849.6 L449.6,849.6 Z"/>
<path d="M445.0,841.7 L449.7,850.8 L440.3,850.8 Z"/>
<path d="M445.5,844.6 L450.2,853.7 L440.8,853.7 Z"/>
<path d="M466.0,845.2 L470.7,854.3 L461.3,854.3 Z"/>
<path d="M466.0,847.0 L470.7,856.1 L461.3,856.1 Z"/>
<path d="M454.3,845.2 L459.0,854.3 L449.6,854.3 Z"/>
<path d="M442.0,852.8 L446.7,861.9 L437.3,861.9 Z"/>
<path d="M449.0,856.3 L453.7,865.4 L444.3,865.4 Z"/>
<path d="M459.6,851.6 L464.3,860.7 L454.9,860.7 Z"/>
<path d="M530.3,896.5 L535.0,905.6 L525.6,905.6 Z"/>
<path d="M532.0,899.5 L536.7,908.6 L527.3,908.6 Z"/>
<path d="M529.1,901.8 L533.8,910.9 L524.4,910.9 Z"/>
<path d="M534.4,902.4 L539.1,911.5 L529.7,911.5 Z"/>
<path d="M524.5,905.3 L529.2,914.4 L519.8,914.4 Z"/>
<path d="M523.9,910.0 L528.6,919.1 L519.2,919.1 Z"/>
<path d="M541.4,907.0 L546.1,916.1 L536.7,916.1 Z"/>
<path d="M536.7,907.0 L541.4,916.1 L532.0,916.1 Z"/>
<path d="M510.4,921.6 L515.1,930.7 L505.7,930.7 Z"/>
<path d="M561.8,921.0 L566.5,930.1 L557.1,930.1 Z"/>
<path d="M552.5,929.8 L557.2,938.9 L547.8,938.9 Z"/>
<path d="M538.5,930.4 L543.2,939.5 L533.8,939.5 Z"/>
<path d="M536.2,938.3 L540.9,947.4 L531.5,947.4 Z"/>
<path d="M540.3,938.9 L545.0,948.0 L535.6,948.0 Z"/>
<path d="M607.3,974.2 L612.0,983.3 L602.6,983.3 Z"/>
<path d="M613.4,972.5 L618.1,981.6 L608.7,981.6 Z"/>
<path d="M606.4,977.1 L611.1,986.2 L601.7,986.2 Z"/>
<path d="M612.8,975.4 L617.5,984.5 L608.1,984.5 Z"/>
<path d="M618.0,978.9 L622.7,988.0 L613.3,988.0 Z"/>
<path d="M623.9,981.2 L628.6,990.3 L619.2,990.3 Z"/>
<path d="M619.8,982.4 L624.5,991.5 L615.1,991.5 Z"/>
<path d="M613.4,982.4 L618.1,991.5 L608.7,991.5 Z"/>
<path d="M639.6,1005.7 L644.3,1014.8 L634.9,1014.8 Z"/>
<path d="M644.9,1006.9 L649.6,1016.0 L640.2,1016.0 Z"/>
<path d="M651.9,1011.0 L656.6,1020.1 L647.2,1020.1 Z"/>
</g>
<circle cx="539" cy="920" r="5.8" fill="#000" stroke="#ff0000" stroke-width="1.5"/>
<!--PB_END-->
<text x="75.5" y="650.8" class="b" font-size="21.5" fill="#111">b</text>
</g>

<!-- legend -->
<rect x="25.5" y="1097.5" width="10.8" height="10.8" fill="#92d050" stroke="#222" stroke-width="1.2"/>
<text x="44.5" y="1106.5" class="b" font-size="15.05" fill="#111">Light pigmented melanins</text>
<text x="93.8" y="1124" class="b" font-size="15.05" fill="#111">in HCM cells</text>
<path d="M269.2,1092.2 L277,1105.6 L261.4,1105.6 Z" fill="#ff0000" stroke="#111" stroke-width="1.2" stroke-linejoin="miter"/>
<text x="282" y="1106.5" class="b" font-size="15.05" fill="#111">Dark pigmented melanins</text>
<text x="329.7" y="1124" class="b" font-size="15.05" fill="#111">in HCM cells</text>
<circle cx="497.6" cy="1102.8" r="5" fill="#ff33cc" stroke="#111" stroke-width="1.2"/>
<text x="511.5" y="1106.5" class="b" font-size="15.05" fill="#111">Cytoplasmic NADH in</text>
<text x="495" y="1124" class="b" font-size="15.05" fill="#111">melanin-free HEK293 cells</text>

</svg>
</body></html>
